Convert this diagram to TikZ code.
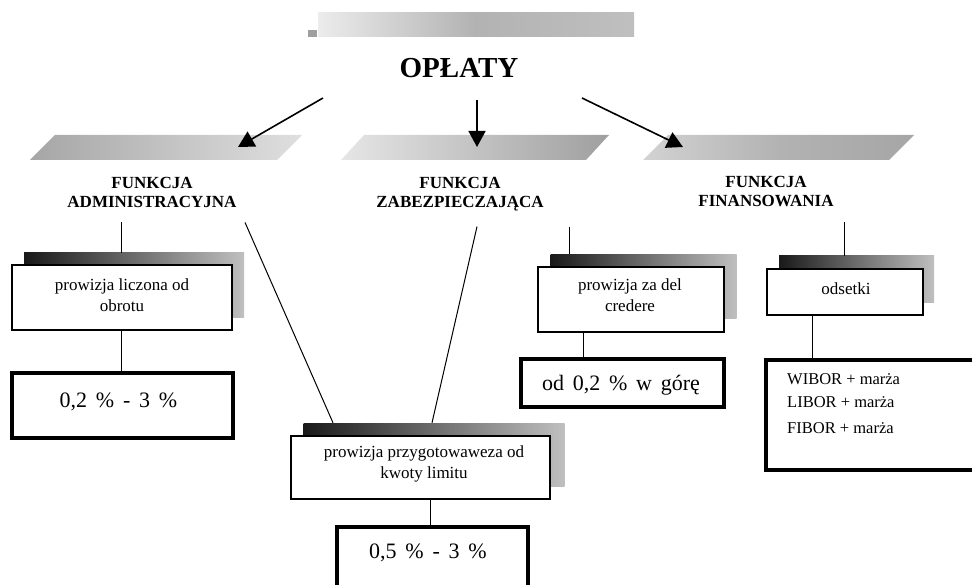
\documentclass[tikz,border=0pt]{standalone}
\usepackage{fontspec}
\setmainfont{Liberation Serif}
\usetikzlibrary{arrows.meta}
\newcommand{\mygap}{\hspace{0.4em}}
\begin{document}
\begin{tikzpicture}[x=1pt,y=-1pt,
  lab/.style={font=\fontsize{17}{19}\selectfont\bfseries, align=center, inner xsep=0pt, inner ysep=15pt},
  txt/.style={font=\fontsize{17}{21}\selectfont, align=center, inner sep=0pt, anchor=north},
  pct/.style={font=\fontsize{22}{26}\selectfont, inner sep=0pt, anchor=base},
  shadowbox/.style={rectangle, left color=black!90, right color=gray!50, inner sep=0pt},
  box/.style={rectangle, draw=black, fill=white, line width=2.2pt, inner sep=0pt},
  thickbox/.style={box, line width=4pt},
  conn/.style={line width=1pt},
  arr/.style={line width=1.6pt, -{Triangle[length=16pt,width=17pt]}}
]
\useasboundingbox (0,0) rectangle (972,585);
\clip (0,0) rectangle (972,585);

% top band
\shade[left color=gray!15, right color=gray!50, middle color=gray!60] (318,13) rectangle (634,37);
\fill[gray!75] (308,30) rectangle (317,37);

\node[font=\fontsize{29}{32}\selectfont\bfseries, inner sep=0pt, anchor=base] (title) at (459,78) {OPŁATY};

% 3D top faces of the function boxes
\shade[left color=gray!70, right color=gray!25] (30,160) -- (55,135) -- (302,135) -- (277,160) -- cycle;
\shade[left color=gray!20, right color=gray!75] (341,160) -- (364,135) -- (609,135) -- (586,160) -- cycle;
\shade[left color=gray!35, right color=gray!70, middle color=gray!60] (643,160) -- (668,135) -- (914,135) -- (889,160) -- cycle;

% labels
\node[lab] (LA) at (152,192) {FUNKCJA\\ADMINISTRACYJNA};
\node[lab] (LM) at (460,194.5) {FUNKCJA\\ZABEZPIECZAJĄCA};
\node[lab] (LR) at (766,192) {FUNKCJA\\FINANSOWANIA};

% arrows
\coordinate (a1s) at (323,98); \coordinate (a1e) at (238,147);
\coordinate (a2s) at (477,100); \coordinate (a2e) at (477,147);
\coordinate (a3s) at (582,98); \coordinate (a3e) at (683,147);
\draw[arr] (a1s) -- (a1e);
\draw[arr] (a2s) -- (a2e);
\draw[arr] (a3s) -- (a3e);

% boxes
\node[shadowbox, minimum width=220pt, minimum height=65pt] (shA) at (134,285.5) {};
\node[box, minimum width=220pt, minimum height=65pt] (boxA) at (122,297.5) {};
\node[thickbox, minimum width=221pt, minimum height=65pt] (boxB) at (122.5,405.5) {};

\node[shadowbox, minimum width=261pt, minimum height=63pt] (shC) at (434,454.5) {};
\node[box, minimum width=259pt, minimum height=63pt] (boxC) at (420.5,467.5) {};
\node[thickbox, minimum width=191pt, minimum height=93pt] (boxD) at (432.5,573.5) {};

\node[shadowbox, minimum width=186pt, minimum height=64pt] (shE) at (643.5,286.5) {};
\node[box, minimum width=186pt, minimum height=65pt] (boxE) at (631,299.5) {};
\node[thickbox, minimum width=203pt, minimum height=48pt] (boxF) at (622.5,383) {};

\node[shadowbox, minimum width=155pt, minimum height=47pt] (shG) at (856.5,279.5) {};
\node[box, minimum width=156pt, minimum height=46pt] (boxG) at (845,292) {};
\node[thickbox, minimum width=234pt, minimum height=110pt] (boxH) at (883,415) {};

% connectors
\coordinate (xA) at (121,0);
\coordinate (xD) at (430,0);
\coordinate (xE) at (569,0);
\coordinate (xF) at (583,0);
\coordinate (xG) at (844,0);
\coordinate (xH) at (812,0);
\draw[conn] (LA.south -| xA) -- (shA.north -| xA);
\draw[conn] (boxA.south -| xA) -- (boxB.north -| xA);
\draw[conn] ([xshift=93pt]LA.south) -- ([xshift=-101pt]shC.north);
\draw[conn] ([xshift=17pt]LM.south) -- ([xshift=-2pt]shC.north);
\draw[conn] (boxC.south -| xD) -- (boxD.north -| xD);
\draw[conn] (LM.south -| xE) -- (shE.north -| xE);
\draw[conn] (boxE.south -| xF) -- (boxF.north -| xF);
\draw[conn] (LR.south -| xG) -- (shG.north -| xG);
\draw[conn] (boxG.south -| xH) -- (boxH.north -| xH);

% texts
\node[txt] (tA) at (122,279) {prowizja liczona od\\obrotu};
\node[pct] (tB) at (118.5,407) {0,2\mygap\%\mygap-\mygap3\mygap\%};
\node[txt] (tC) at (424,445.5) {prowizja przygotowaweza od\\kwoty limitu};
\node[pct] (tD) at (428,558) {0,5\mygap\%\mygap-\mygap3\mygap\%};
\node[txt] (tE) at (630,279) {prowizja za del\\credere};
\node[pct] (tF) at (621,390) {od\mygap0,2\mygap\%\mygap w\mygap górę};
\node[txt, anchor=base] (tG) at (846,295) {odsetki};
\node[font=\fontsize{16.5}{23}\selectfont, align=left, inner sep=0pt, anchor=north west] (tH) at (787,373) {WIBOR + marża\\LIBOR + marża\\[3pt]FIBOR + marża};
\end{tikzpicture}
\end{document}
